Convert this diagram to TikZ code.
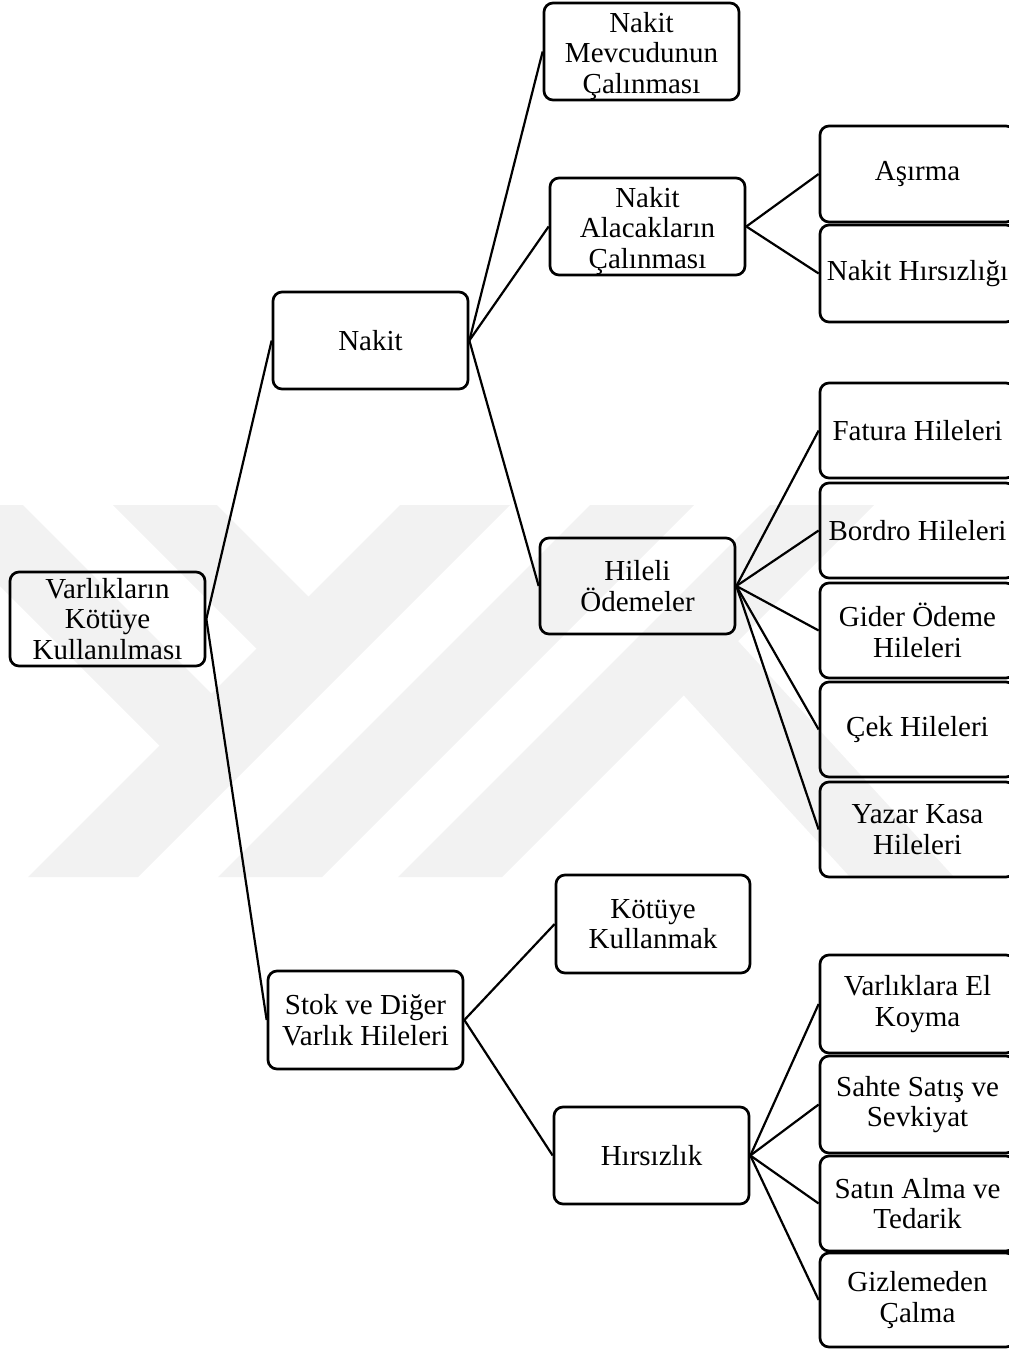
\documentclass[tikz,border=0pt]{standalone}
\usepackage{fontspec}
\setmainfont{Liberation Serif}
\begin{document}
\begin{tikzpicture}[x=1pt,y=-1pt,
  box/.style={draw=black, line width=2.7pt, rounded corners=9pt, align=center,
    inner sep=0pt, minimum width=195pt, minimum height=96pt,
    font=\fontsize{29}{30.5}\selectfont},
  txt/.style={align=center, inner sep=0pt, font=\fontsize{29}{30.5}\selectfont},
  link/.style={line width=2.2pt},
  wm/.style={fill=black!5}]
\useasboundingbox (0,0) rectangle (1009,1349);
% faint background watermark
\begin{scope}
\clip (0,505) rectangle (1009,877);
\fill[wm] (400,505) -- (510,505) -- (138,877) -- (28,877) -- cycle;
\fill[wm] (113,505) -- (217,505) -- (363,651) -- (311,703) -- cycle;
\fill[wm] (-81,505) -- (23,505) -- (266,748) -- (214,800) -- cycle;
\fill[wm] (590,505) -- (694,505) -- (322,877) -- (218,877) -- cycle;
\fill[wm] (770,505) -- (874,505) -- (502,877) -- (398,877) -- cycle;
\fill[wm] (634,641) -- (738,641) -- (954,877) -- (850,877) -- cycle;
\end{scope}
% nodes
\node[box, minimum height=94pt] (root) at (107.5,619) {Varlıkların\\Kötüye\\Kullanılması};
\node[box, minimum height=97pt] (nakit) at (370.5,340.5) {Nakit};
\node[box, minimum height=97pt] (mevc) at (641.5,51.5) {};
\node[txt] (mevct) at ([yshift=-4.5pt]mevc.center) {Nakit\\Mevcudunun\\Çalınması};
\node[box, minimum height=97pt] (alac) at (647.5,226.5) {};
\node[txt] (alact) at ([yshift=-4.5pt]alac.center) {Nakit\\Alacakların\\Çalınması};
\node[box] (hileli) at (637.5,586) {Hileli\\Ödemeler};
\node[box] (asirma) at (917.5,174) {Aşırma};
\node[box, minimum height=97pt] (nhirs) at (917.5,273.5) {Nakit Hırsızlığı};
\node[box, minimum height=95pt] (fatura) at (917.5,430.5) {Fatura Hileleri};
\node[box, minimum height=95pt] (bordro) at (917.5,530.5) {Bordro Hileleri};
\node[box, minimum height=95pt] (gider) at (917.5,630.5) {Gider Ödeme\\Hileleri};
\node[box, minimum height=95pt] (cek) at (917.5,729.5) {Çek Hileleri};
\node[box, minimum height=95pt] (yazar) at (917.5,829.5) {Yazar Kasa\\Hileleri};
\node[box, minimum width=194pt, minimum height=98pt] (kotuye) at (653,924) {Kötüye\\Kullanmak};
\node[box, minimum height=98pt] (stok) at (365.5,1020) {Stok ve Diğer\\Varlık Hileleri};
\node[box, minimum height=97pt] (hirsizlik) at (651.5,1155.5) {Hırsızlık};
\node[box, minimum height=98pt] (elkoy) at (917.5,1004) {Varlıklara El\\Koyma};
\node[box, minimum height=97pt] (sahte) at (917.5,1104.5) {Sahte Satış ve\\Sevkiyat};
\node[box, minimum height=95pt] (satin) at (917.5,1203.5) {Satın Alma ve\\Tedarik};
\node[box, minimum height=94pt] (gizle) at (917.5,1300) {Gizlemeden\\Çalma};
% connectors
\draw[link] (root.east) -- (nakit.west);
\draw[link] (root.east) -- (stok.west);
\draw[link] (nakit.east) -- (mevc.west);
\draw[link] (nakit.east) -- (alac.west);
\draw[link] (nakit.east) -- (hileli.west);
\draw[link] (alac.east) -- (asirma.west);
\draw[link] (alac.east) -- (nhirs.west);
\draw[link] (hileli.east) -- (fatura.west);
\draw[link] (hileli.east) -- (bordro.west);
\draw[link] (hileli.east) -- (gider.west);
\draw[link] (hileli.east) -- (cek.west);
\draw[link] (hileli.east) -- (yazar.west);
\draw[link] (stok.east) -- (kotuye.west);
\draw[link] (stok.east) -- (hirsizlik.west);
\draw[link] (hirsizlik.east) -- (elkoy.west);
\draw[link] (hirsizlik.east) -- (sahte.west);
\draw[link] (hirsizlik.east) -- (satin.west);
\draw[link] (hirsizlik.east) -- (gizle.west);
\end{tikzpicture}
\end{document}
